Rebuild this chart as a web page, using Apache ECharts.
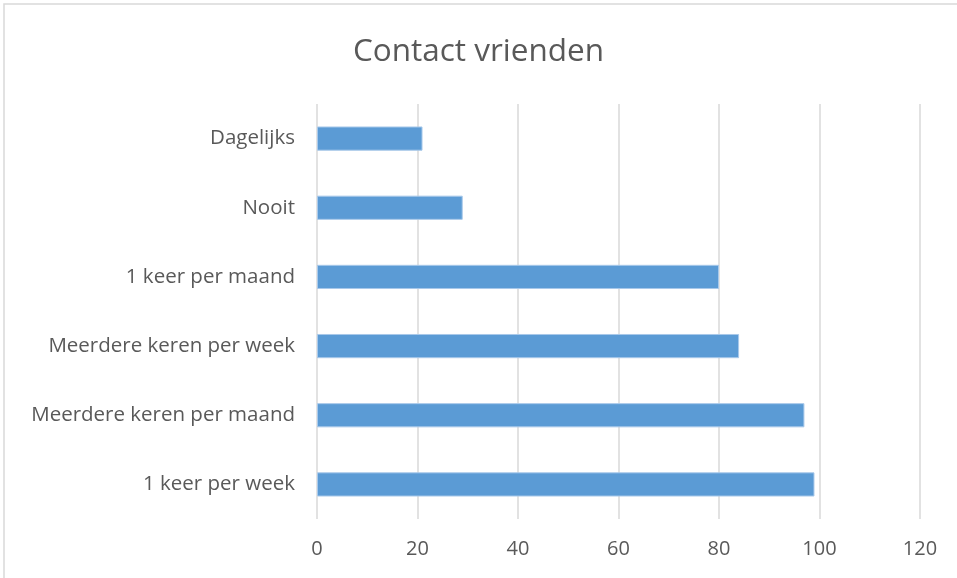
<!DOCTYPE html>
<html><head><meta charset="utf-8">
<script src="https://cdn.jsdelivr.net/npm/echarts@6/dist/echarts.min.js"></script>
<style>html,body{margin:0;padding:0;background:#fff}#c{width:957px;height:578px}</style>
</head><body><div id="c"></div>
<script>
const categories = ['1 keer per week','Meerdere keren per maand','Meerdere keren per week','1 keer per maand','Nooit','Dagelijks'];
const values = [99, 97, 84, 80, 29, 21];
const xTicks = [0, 20, 40, 60, 80, 100, 120];

const chart = echarts.init(document.getElementById('c'));
chart.setOption({
  animation: false,
  title: {text: 'Contact vrienden', left: 'center', top: 31,
    textStyle: {fontFamily: 'Open Sans', fontSize: 31.5, fontWeight: 'normal', color: '#595959'}},
  graphic: [{type: 'rect', shape: {x: 4, y: 4, width: 960, height: 580},
    style: {fill: 'none', stroke: '#d9d9d9', lineWidth: 1.5}, silent: true}],
  grid: {left: 317, right: 37, top: 104, bottom: 59},
  xAxis: {type: 'value', min: xTicks[0], max: xTicks[xTicks.length-1], interval: 20,
    axisLine: {show: false}, axisTick: {show: false},
    splitLine: {lineStyle: {color: '#d9d9d9', width: 1.5}},
    axisLabel: {color: '#595959', fontFamily: 'Open Sans', fontSize: 20, margin: 20}},
  yAxis: {type: 'category', data: categories,
    axisLine: {show: false}, axisTick: {show: false},
    axisLabel: {color: '#595959', fontFamily: 'Open Sans', fontSize: 20.5, margin: 22}},
  series: [{type: 'bar', data: values, barWidth: '35%',
    itemStyle: {color: '#5B9BD5', borderColor: '#a9c9ea', borderWidth: 1}}]
});
</script></body></html>
